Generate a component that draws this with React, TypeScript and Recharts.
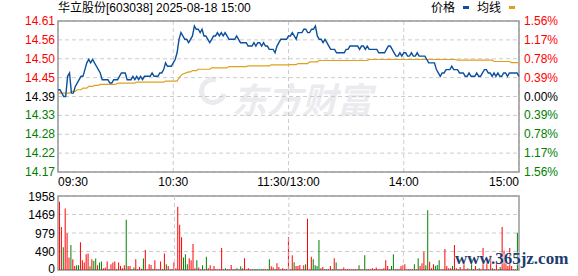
import {
  LineChart,
  Line,
  BarChart,
  Bar,
  Cell,
  XAxis,
  YAxis,
  CartesianGrid,
  ReferenceArea,
  ReferenceLine,
} from "recharts";

const PREV_CLOSE = 14.39;
const pctTicks = [-1.56, -1.17, -0.78, -0.39, 0, 0.39, 0.78, 1.17, 1.56];
const timeTicks = [0, 60, 120, 180, 240];
const timeLabels = ["09:30", "10:30", "11:30/13:00", "14:00", "15:00"];
const volTicks = [0, 490, 979, 1469, 1958];

// one point per minute, 09:30 .. 11:30 then 13:01 .. 15:00
const price = [
  14.41, 14.41, 14.40, 14.39, 14.39, 14.45, 14.46, 14.40, 14.40, 14.42,
  14.43, 14.44, 14.45, 14.45, 14.47, 14.49, 14.50, 14.49, 14.50, 14.49,
  14.48, 14.47, 14.46, 14.44, 14.44, 14.44, 14.44, 14.43, 14.43, 14.44,
  14.44, 14.44, 14.45, 14.46, 14.46, 14.46, 14.44, 14.44, 14.44, 14.45,
  14.44, 14.45, 14.44, 14.45, 14.44, 14.45, 14.45, 14.45, 14.45, 14.46,
  14.45, 14.45, 14.45, 14.46, 14.46, 14.47, 14.49, 14.48, 14.48, 14.48,
  14.49, 14.50, 14.52, 14.56, 14.58, 14.57, 14.56, 14.56, 14.55, 14.56,
  14.57, 14.60, 14.59, 14.59, 14.58, 14.59, 14.57, 14.57, 14.56, 14.55,
  14.56, 14.57, 14.57, 14.58, 14.57, 14.58, 14.57, 14.58, 14.57, 14.56,
  14.56, 14.56, 14.56, 14.57, 14.56, 14.55, 14.55, 14.55, 14.55, 14.54,
  14.54, 14.54, 14.55, 14.54, 14.55, 14.55, 14.54, 14.55, 14.54, 14.54,
  14.53, 14.53, 14.53, 14.52, 14.54, 14.55, 14.56, 14.56, 14.56, 14.56,
  14.57, 14.57, 14.58, 14.57, 14.56, 14.58, 14.58, 14.58, 14.59, 14.59,
  14.58, 14.58, 14.59, 14.59, 14.60, 14.57, 14.56, 14.56, 14.55, 14.56,
  14.55, 14.54, 14.53, 14.53, 14.53, 14.52, 14.52, 14.52, 14.52, 14.52,
  14.53, 14.53, 14.54, 14.54, 14.54, 14.54, 14.54, 14.53, 14.54, 14.54,
  14.53, 14.54, 14.53, 14.53, 14.53, 14.53, 14.53, 14.52, 14.52, 14.52,
  14.52, 14.53, 14.54, 14.54, 14.53, 14.52, 14.51, 14.51, 14.52, 14.51,
  14.52, 14.52, 14.51, 14.51, 14.52, 14.51, 14.51, 14.52, 14.51, 14.51,
  14.51, 14.51, 14.50, 14.49, 14.49, 14.49, 14.49, 14.47, 14.46, 14.45,
  14.46, 14.46, 14.47, 14.47, 14.47, 14.48, 14.47, 14.47, 14.47, 14.46,
  14.46, 14.46, 14.45, 14.45, 14.46, 14.45, 14.45, 14.45, 14.46, 14.45,
  14.45, 14.46, 14.47, 14.47, 14.46, 14.46, 14.45, 14.46, 14.45, 14.46,
  14.45, 14.45, 14.46, 14.46, 14.45, 14.46, 14.46, 14.46, 14.46, 14.46,
  14.45,
];

const avgPrice = [
  14.400, 14.400, 14.400, 14.400, 14.400, 14.400, 14.400, 14.405, 14.405, 14.405,
  14.410, 14.410, 14.410, 14.415, 14.415, 14.415, 14.420, 14.420, 14.420, 14.423,
  14.423, 14.423, 14.426, 14.426, 14.426, 14.426, 14.426, 14.426, 14.426, 14.426,
  14.426, 14.430, 14.430, 14.430, 14.430, 14.430, 14.430, 14.430, 14.430, 14.430,
  14.430, 14.433, 14.433, 14.433, 14.433, 14.433, 14.433, 14.433, 14.433, 14.433,
  14.433, 14.433, 14.433, 14.433, 14.433, 14.433, 14.436, 14.436, 14.436, 14.436,
  14.436, 14.436, 14.436, 14.445, 14.452, 14.457, 14.459, 14.461, 14.463, 14.463,
  14.467, 14.467, 14.467, 14.471, 14.471, 14.471, 14.471, 14.471, 14.471, 14.471,
  14.475, 14.475, 14.475, 14.475, 14.475, 14.475, 14.475, 14.475, 14.475, 14.479,
  14.479, 14.479, 14.479, 14.479, 14.479, 14.479, 14.479, 14.479, 14.479, 14.481,
  14.481, 14.481, 14.481, 14.481, 14.481, 14.481, 14.481, 14.481, 14.481, 14.481,
  14.481, 14.484, 14.484, 14.484, 14.484, 14.484, 14.484, 14.484, 14.484, 14.484,
  14.484, 14.485, 14.485, 14.485, 14.485, 14.488, 14.488, 14.488, 14.488, 14.488,
  14.488, 14.493, 14.493, 14.493, 14.493, 14.493, 14.497, 14.497, 14.497, 14.497,
  14.497, 14.497, 14.497, 14.497, 14.497, 14.497, 14.497, 14.497, 14.497, 14.497,
  14.497, 14.497, 14.497, 14.497, 14.497, 14.497, 14.497, 14.497, 14.497, 14.497,
  14.497, 14.497, 14.500, 14.500, 14.500, 14.500, 14.500, 14.500, 14.500, 14.500,
  14.500, 14.500, 14.500, 14.500, 14.500, 14.500, 14.500, 14.500, 14.500, 14.500,
  14.500, 14.500, 14.500, 14.500, 14.500, 14.500, 14.500, 14.500, 14.500, 14.500,
  14.500, 14.500, 14.500, 14.500, 14.500, 14.500, 14.500, 14.500, 14.500, 14.500,
  14.500, 14.500, 14.500, 14.500, 14.500, 14.500, 14.500, 14.500, 14.498, 14.498,
  14.498, 14.498, 14.498, 14.498, 14.498, 14.498, 14.498, 14.498, 14.498, 14.498,
  14.498, 14.498, 14.498, 14.498, 14.498, 14.498, 14.498, 14.494, 14.494, 14.494,
  14.494, 14.494, 14.494, 14.494, 14.494, 14.494, 14.491, 14.491, 14.491, 14.491,
  14.491,
];

const volume = [
  1806, 1135, 599, 1627, 974, 331, 662, 286, 107, 125,
  125, 733, 259, 197, 420, 438, 98, 286, 241, 304,
  125, 197, 224, 45, 63, 224, 18, 152, 197, 224,
  18, 197, 107, 45, 125, 1332, 107, 107, 18, 63,
  286, 18, 80, 36, 304, 527, 18, 152, 134, 27,
  259, 18, 18, 224, 27, 438, 152, 107, 18, 18,
  206, 45, 1672, 1198, 867, 331, 420, 152, 313, 259,
  688, 45, 259, 63, 18, 125, 18, 349, 45, 125,
  18, 107, 18, 18, 18, 581, 18, 45, 18, 18,
  134, 18, 18, 45, 18, 98, 45, 313, 18, 45,
  18, 18, 18, 18, 18, 18, 18, 18, 18, 18,
  286, 98, 63, 18, 179, 80, 18, 45, 18, 18,
  867, 18, 393, 206, 107, 107, 134, 18, 125, 152,
  1359, 18, 349, 286, 125, 107, 796, 45, 80, 18,
  18, 18, 107, 18, 313, 197, 18, 18, 18, 63,
  18, 18, 18, 18, 18, 18, 18, 125, 18, 18,
  393, 18, 18, 18, 45, 18, 63, 18, 18, 18,
  45, 259, 107, 18, 107, 420, 18, 18, 18, 107,
  125, 152, 18, 18, 18, 18, 152, 18, 313, 107,
  179, 483, 125, 1582, 215, 45, 152, 107, 134, 259,
  18, 18, 554, 107, 45, 45, 107, 662, 45, 18,
  80, 18, 259, 18, 45, 18, 313, 18, 107, 18,
  45, 18, 581, 18, 259, 18, 375, 45, 18, 215,
  18, 80, 1135, 510, 330, 107, 581, 107, 18, 18,
  983,
];

// r = up minute, g = down minute
const volDir = [
  "rrgrrrgrrg", "grrrrrgrgg", "rggrrrgrrr", "rrrrrgrrgg", "rrrrgrrrrg",
  "rrrrgrgrrg", "rrrrrgggrr", "rrgrrgrgrr", "rrrrrrrgrr", "rrrgrgrrrr",
  "rggggggrrr", "grrgrrrrrr", "rrrgrrrrrg", "rrrggggrrg", "grrgrgrrrr",
  "rrrrrrrgrr", "grrrrrrrrr", "rrrrggrrrr", "rrrrrrgrgr", "rrggrrrggg",
  "rrrrrrgrrg", "rrrrrggrrr", "grrrrrrgrr", "rgrrrrrrrr", "g",
].join("");

const RED = "#ff0000";
const GREEN = "#008000";
const BLUE = "#0b4f9e";
const GOLD = "#dfa11d";
const GRID = "#cccccc";
const FRAME = "#999999";
const WATERMARK = "#ebebef";
const FONT = '"Liberation Sans", "Noto Sans CJK SC", sans-serif';

const priceTicks = pctTicks.map((p) => PREV_CLOSE * (1 + p / 100));
const priceDomain = [priceTicks[0], priceTicks[priceTicks.length - 1]];

const rows = price.map((p, i) => ({ m: i, price: p, avg: avgPrice[i] }));
const volRows = volume.map((v, i) => ({ m: i, vol: v, dir: volDir[i] }));

function signColor(v: number) {
  if (v > PREV_CLOSE + 1e-6) return RED;
  if (v < PREV_CLOSE - 1e-6) return GREEN;
  return "#000";
}

function PriceTick({ x, y, payload }: any) {
  return (
    <text x={x} y={y} dy={4} textAnchor="end" fontSize={12} fontFamily={FONT} fill={signColor(payload.value)}>
      {payload.value.toFixed(2)}
    </text>
  );
}

function PctTick({ x, y, payload }: any) {
  const pct = Math.abs((payload.value / PREV_CLOSE - 1) * 100);
  return (
    <text x={x} y={y} dy={4} textAnchor="start" fontSize={12} fontFamily={FONT} fill={signColor(payload.value)}>
      {pct.toFixed(2)}%
    </text>
  );
}

function TimeTick({ x, y, payload }: any) {
  const i = timeTicks.indexOf(payload.value);
  const anchor = i === 0 ? "start" : i === timeTicks.length - 1 ? "end" : "middle";
  return (
    <text x={x} y={y} dy={10} textAnchor={anchor} fontSize={12} fontFamily={FONT} fill="#000">
      {timeLabels[i]}
    </text>
  );
}

function VolTick({ x, y, payload }: any) {
  // bottom label sits right on the image edge, pull it up a little
  const dy = payload.value === 0 ? 2.5 : 5;
  return (
    <text x={x} y={y} dy={dy} textAnchor="end" fontSize={12} fontFamily={FONT} fill="#000">
      {payload.value}
    </text>
  );
}

function LegendItem({ color, label }: { color: string; label: string }) {
  return (
    <span style={{ display: "inline-flex", alignItems: "center", marginLeft: 8 }}>
      {label}
      <span style={{ width: 6, height: 3, background: color, marginLeft: 8, marginTop: -3 }} />
    </span>
  );
}

export default function App() {
  return (
    <div
      style={{
        position: "absolute",
        left: 0,
        top: 0,
        width: 578,
        height: 276,
        background: "#fff",
        fontFamily: FONT,
        overflow: "hidden",
      }}
    >
      {/* faint site watermark behind the price plot */}
      <div
        style={{
          position: "absolute",
          left: 199,
          top: 77,
          width: 28,
          height: 28,
          borderRadius: "50%",
          border: `5px solid ${WATERMARK}`,
          borderRightColor: "transparent",
          boxSizing: "border-box",
          transform: "rotate(-30deg)",
        }}
      />
      <div
        style={{
          position: "absolute",
          left: 232,
          top: 72,
          fontSize: 35,
          fontWeight: "bold",
          fontStyle: "italic",
          color: WATERMARK,
          whiteSpace: "nowrap",
        }}
      >
        东方财富
      </div>

      <div style={{ position: "absolute", left: 58, top: 0, fontSize: 12, lineHeight: "17px", whiteSpace: "nowrap" }}>
        华立股份[603038] 2025-08-18 15:00
      </div>
      <div
        style={{
          position: "absolute",
          left: 423,
          top: 0,
          fontSize: 12,
          lineHeight: "17px",
          whiteSpace: "nowrap",
          display: "flex",
        }}
      >
        <LegendItem color={BLUE} label="价格" />
        <LegendItem color={GOLD} label="均线" />
      </div>

      <div style={{ position: "absolute", left: 0, top: 0 }}>
        <LineChart width={578} height={190} data={rows} margin={{ top: 21, right: 0, bottom: 0, left: 0 }}>
          <CartesianGrid yAxisId="p" stroke={GRID} strokeDasharray="4 3" />
          <XAxis
            dataKey="m"
            type="number"
            domain={[0, 240]}
            ticks={timeTicks}
            interval={0}
            height={18}
            tickSize={0}
            tickMargin={4}
            axisLine={false}
            tick={<TimeTick />}
          />
          <YAxis
            yAxisId="p"
            domain={priceDomain}
            ticks={priceTicks}
            interval={0}
            width={58}
            tickSize={0}
            tickMargin={3}
            axisLine={false}
            allowDataOverflow
            tick={<PriceTick />}
          />
          <YAxis
            yAxisId="pct"
            orientation="right"
            domain={priceDomain}
            ticks={priceTicks}
            interval={0}
            width={59}
            tickSize={0}
            tickMargin={5}
            axisLine={false}
            allowDataOverflow
            tick={<PctTick />}
          />
          <ReferenceArea
            yAxisId="p"
            x1={0}
            x2={240}
            y1={priceDomain[0]}
            y2={priceDomain[1]}
            fill="none"
            stroke={FRAME}
            strokeWidth={1.5}
          />
          <Line yAxisId="p" type="linear" dataKey="avg" stroke={GOLD} strokeWidth={1.2} dot={false} isAnimationActive={false} />
          <Line yAxisId="p" type="linear" dataKey="price" stroke={BLUE} strokeWidth={1.4} dot={false} isAnimationActive={false} />
        </LineChart>
      </div>

      <div style={{ position: "absolute", left: 0, top: 190 }}>
        <BarChart width={578} height={86} data={volRows} margin={{ top: 6, right: 59, bottom: 6, left: 0 }}>
          <CartesianGrid vertical={false} stroke={GRID} strokeDasharray="4 3" />
          <XAxis dataKey="m" type="number" domain={[-1, 240.6]} hide />
          <YAxis
            domain={[0, 1958]}
            ticks={volTicks}
            interval={0}
            width={58}
            tickSize={0}
            tickMargin={3}
            axisLine={false}
            tick={<VolTick />}
          />
          {timeTicks.slice(1, 4).map((t) => (
            <ReferenceLine key={t} x={t} stroke={GRID} strokeDasharray="4 3" />
          ))}
          <ReferenceArea x1={-1} x2={240.6} y1={0} y2={1958} fill="none" stroke={FRAME} strokeWidth={1.5} />
          <Bar dataKey="vol" barSize={1} isAnimationActive={false}>
            {volRows.map((r) => (
              <Cell key={r.m} fill={r.dir === "r" ? RED : GREEN} />
            ))}
          </Bar>
        </BarChart>
      </div>

      <div
        style={{
          position: "absolute",
          left: 455,
          top: 249,
          fontSize: 17,
          fontWeight: "bold",
          fontFamily: '"Liberation Serif", serif',
          color: "#1c3d6e",
          textShadow: "0 0 2px #fff, 0 0 2px #fff",
          whiteSpace: "nowrap",
        }}
      >
        www.365jz.com
      </div>
    </div>
  );
}
